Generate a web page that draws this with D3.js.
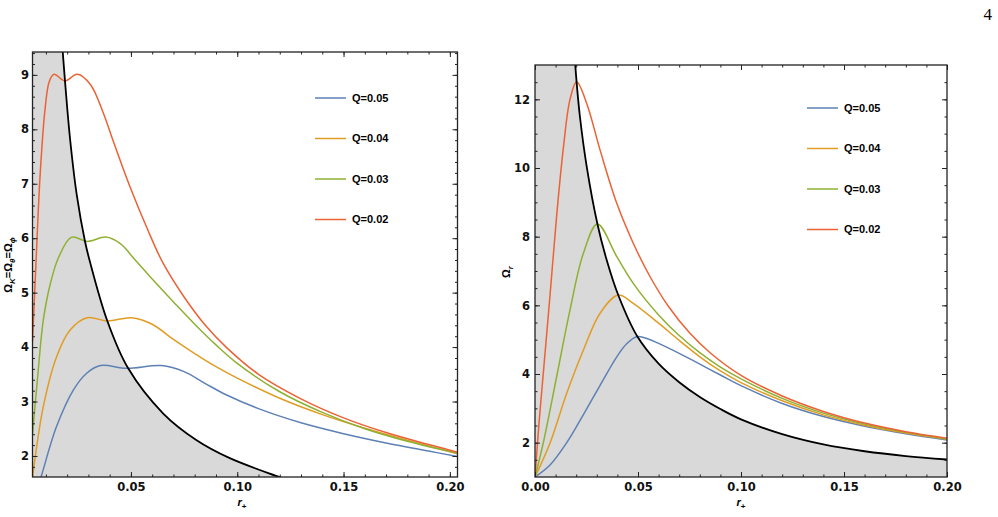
<!DOCTYPE html>
<html>
<head>
<meta charset="utf-8">
<script src="https://cdn.jsdelivr.net/npm/d3@7"></script>
<style>
  body { margin: 0; background: #fff; }
  .tick text { font-family: "DejaVu Sans", sans-serif; font-weight: bold; font-size: 11.5px; fill: #111; }
  .legend text { font-family: "Liberation Sans", Arial, sans-serif; font-weight: bold; font-size: 11px; }
  .alabel { font-family: "Liberation Sans", Arial, sans-serif; font-weight: bold; font-size: 11px; }
</style>
</head>
<body>
<script>
const width = 998;
const height = 517;

const series = ["Q=0.05", "Q=0.04", "Q=0.03", "Q=0.02"];
const colors = ["#5e81b5", "#e19c24", "#8fb032", "#eb6235"];

// left panel: Omega_K = Omega_theta = Omega_phi vs r+
const leftBlue = [[0.0055, 1.33], [0.008, 1.65], [0.015, 2.54], [0.0229, 3.21], [0.0292, 3.52], [0.0357, 3.66], [0.048, 3.61], [0.0644, 3.66], [0.075, 3.55], [0.085, 3.33], [0.095, 3.12], [0.11, 2.87], [0.13, 2.61], [0.15, 2.41], [0.17, 2.24], [0.19, 2.09], [0.2036, 1.99]];
const leftOrange = [[0.0037, 1.6], [0.0088, 2.91], [0.015, 3.82], [0.0213, 4.31], [0.0294, 4.54], [0.0389, 4.48], [0.0503, 4.54], [0.06, 4.42], [0.07, 4.14], [0.08, 3.88], [0.09, 3.64], [0.10, 3.43], [0.12, 3.06], [0.14, 2.76], [0.16, 2.51], [0.18, 2.29], [0.2036, 2.04]];
const leftGreen = [[0.0037, 2.4], [0.006, 3.4], [0.0088, 4.5], [0.012, 5.15], [0.016, 5.65], [0.0221, 6.02], [0.0294, 5.94], [0.0382, 6.02], [0.045, 5.90], [0.052, 5.60], [0.06, 5.25], [0.07, 4.83], [0.08, 4.42], [0.09, 4.04], [0.10, 3.70], [0.12, 3.18], [0.14, 2.80], [0.16, 2.50], [0.18, 2.27], [0.2036, 2.05]];
const leftRed = [[0.0037, 4.1], [0.0053, 5.51], [0.0072, 7.1], [0.0095, 8.33], [0.0116, 8.88], [0.0138, 9.01], [0.019, 8.89], [0.0248, 9.01], [0.031, 8.82], [0.037, 8.30], [0.0417, 7.78], [0.0495, 6.95], [0.0574, 6.20], [0.065, 5.55], [0.075, 4.92], [0.085, 4.40], [0.095, 3.99], [0.11, 3.50], [0.13, 3.05], [0.15, 2.70], [0.17, 2.43], [0.19, 2.21], [0.2036, 2.07]];
const leftBlack = [[0.0165, 10.3], [0.0177, 9.55], [0.019, 8.88], [0.0213, 7.85], [0.0245, 6.80], [0.0284, 5.94], [0.0307, 5.57], [0.0389, 4.48], [0.0487, 3.61], [0.0652, 2.78], [0.0809, 2.29], [0.0965, 1.96], [0.1193, 1.62], [0.125, 1.54]];
const leftXTicks = [0.05, 0.10, 0.15, 0.20];
const leftYTicks = [2, 3, 4, 5, 6, 7, 8, 9];

// right panel: Omega_r vs r+
const rightBlue = [[0, 1.0], [0.0073, 1.35], [0.0154, 2.00], [0.0235, 2.82], [0.0316, 3.67], [0.0397, 4.50], [0.0445, 4.88], [0.0497, 5.09], [0.055, 5.02], [0.06, 4.89], [0.07, 4.60], [0.08, 4.29], [0.09, 3.97], [0.10, 3.66], [0.12, 3.14], [0.14, 2.76], [0.16, 2.48], [0.18, 2.26], [0.20, 2.08]];
const rightOrange = [[0, 1.0], [0.0073, 1.99], [0.0154, 3.44], [0.0235, 4.70], [0.0316, 5.77], [0.0404, 6.30], [0.0477, 6.06], [0.06, 5.48], [0.07, 4.98], [0.08, 4.50], [0.09, 4.09], [0.10, 3.75], [0.12, 3.22], [0.14, 2.81], [0.16, 2.51], [0.18, 2.28], [0.20, 2.10]];
const rightGreen = [[0, 1.0], [0.004, 1.99], [0.0105, 3.92], [0.017, 5.87], [0.0235, 7.52], [0.0303, 8.37], [0.0397, 7.42], [0.0477, 6.64], [0.06, 5.72], [0.07, 5.12], [0.08, 4.62], [0.09, 4.20], [0.10, 3.86], [0.12, 3.29], [0.14, 2.86], [0.16, 2.54], [0.18, 2.30], [0.20, 2.11]];
const rightRed = [[0, 1.0], [0.002, 2.6], [0.004, 4.0], [0.0073, 6.3], [0.0105, 8.6], [0.0138, 10.6], [0.017, 12.0], [0.0202, 12.51], [0.0251, 11.88], [0.0316, 10.52], [0.0397, 8.97], [0.0477, 7.81], [0.0558, 6.84], [0.065, 5.95], [0.075, 5.20], [0.085, 4.62], [0.10, 3.96], [0.12, 3.36], [0.14, 2.91], [0.16, 2.57], [0.18, 2.32], [0.20, 2.13]];
const rightBlack = [[0.0182, 14.5], [0.0195, 13.05], [0.0202, 12.5], [0.0218, 11.5], [0.0251, 10.04], [0.0303, 8.37], [0.0348, 7.32], [0.0404, 6.30], [0.0497, 5.09], [0.06, 4.30], [0.07, 3.76], [0.08, 3.33], [0.09, 2.98], [0.10, 2.68], [0.12, 2.25], [0.14, 1.95], [0.16, 1.75], [0.18, 1.61], [0.20, 1.51]];
const rightXTicks = [0, 0.05, 0.10, 0.15, 0.20];
const rightYTicks = [2, 4, 6, 8, 10, 12];

const svg = d3
  .select("body")
  .append("svg")
  .attr("width", width)
  .attr("height", height);

// page number
svg
  .append("text")
  .attr("x", 992)
  .attr("y", 20)
  .attr("text-anchor", "end")
  .style("font-family", "'Liberation Serif', serif")
  .style("font-size", "17px")
  .text("4");

drawPanel({
  id: "left",
  box: [32.5, 52, 457.5, 477],
  xDomain: [0.0037, 0.2036],
  yDomain: [1.614, 9.42],
  xTicks: leftXTicks,
  yTicks: leftYTicks,
  xMinor: d3.range(0.01, 0.2001, 0.01),
  yMinor: d3.range(1.8, 9.41, 0.2),
  yPad: 3.5,
  lines: [leftBlue, leftOrange, leftGreen, leftRed],
  black: leftBlack,
  legend: [315, 98, 40.5],
  xlabelPos: [242, 506],
  ylabelPos: [12, 265],
  ylabel: [["Ω", ""], ["K", "sub"], ["=Ω", ""], ["θ", "sub"], ["=Ω", ""], ["ϕ", "sub"]]
});

drawPanel({
  id: "right",
  box: [535, 65, 947, 477],
  xDomain: [0, 0.2],
  yDomain: [1.0, 13.0],
  xTicks: rightXTicks,
  yTicks: rightYTicks,
  xMinor: d3.range(0.01, 0.2001, 0.01),
  yMinor: d3.range(1.5, 12.91, 0.5),
  yPad: 5,
  lines: [rightBlue, rightOrange, rightGreen, rightRed],
  black: rightBlack,
  legend: [807, 108, 40.5],
  xlabelPos: [741, 506],
  ylabelPos: [510, 272],
  ylabel: [["Ω", ""], ["r", "sub"]]
});

function drawPanel(p) {
  const [x0, y0, x1, y1] = p.box;
  const x = d3.scaleLinear().domain(p.xDomain).range([x0, x1]);
  const y = d3.scaleLinear().domain(p.yDomain).range([y1, y0]);
  const smooth = d3.curveCatmullRom.alpha(0.5);

  svg
    .append("clipPath")
    .attr("id", "clip-" + p.id)
    .append("rect")
    .attr("x", x0)
    .attr("y", y0)
    .attr("width", x1 - x0)
    .attr("height", y1 - y0);

  const g = svg.append("g").attr("clip-path", "url(#clip-" + p.id + ")");

  // shaded region left of / below the black curve
  g.append("rect")
    .attr("x", x0)
    .attr("y", y0)
    .attr("width", x(p.black[0][0]) - x0 + 0.5)
    .attr("height", y1 - y0)
    .attr("fill", "#d9d9d9");

  const area = d3
    .area()
    .x((d) => x(d[0]))
    .y0(y1)
    .y1((d) => y(d[1]))
    .curve(smooth);

  g.append("path").datum(p.black).attr("d", area).attr("fill", "#d9d9d9");

  const line = d3
    .line()
    .x((d) => x(d[0]))
    .y((d) => y(d[1]))
    .curve(smooth);

  g.selectAll(".curve")
    .data(p.lines)
    .enter()
    .append("path")
    .attr("class", "curve")
    .attr("d", line)
    .attr("fill", "none")
    .attr("stroke", (d, i) => colors[i])
    .attr("stroke-width", 1.5);

  g.append("path")
    .datum(p.black)
    .attr("d", line)
    .attr("fill", "none")
    .attr("stroke", "#000")
    .attr("stroke-width", 1.8);

  // axes, ticks pointing inward on all four sides
  const fmt = d3.format(".2f");
  const axes = [
    [d3.axisBottom(x).tickValues(p.xTicks).tickFormat(fmt).tickPadding(5.5), "translate(0," + y1 + ")", 5],
    [d3.axisBottom(x).tickValues(p.xMinor).tickFormat(""), "translate(0," + y1 + ")", 2.5],
    [d3.axisTop(x).tickValues(p.xTicks).tickFormat(""), "translate(0," + y0 + ")", 5],
    [d3.axisTop(x).tickValues(p.xMinor).tickFormat(""), "translate(0," + y0 + ")", 2.5],
    [d3.axisLeft(y).tickValues(p.yTicks).tickFormat(d3.format("d")).tickPadding(p.yPad), "translate(" + x0 + ",0)", 5],
    [d3.axisLeft(y).tickValues(p.yMinor).tickFormat(""), "translate(" + x0 + ",0)", 2.5],
    [d3.axisRight(y).tickValues(p.yTicks).tickFormat(""), "translate(" + x1 + ",0)", 5],
    [d3.axisRight(y).tickValues(p.yMinor).tickFormat(""), "translate(" + x1 + ",0)", 2.5]
  ];
  axes.forEach(function (a) {
    const ag = svg
      .append("g")
      .attr("transform", a[1])
      .call(a[0].tickSize(-a[2]));
    ag.select(".domain").remove();
    ag.selectAll(".tick line").attr("stroke", "#222").attr("stroke-width", 1);
  });

  svg
    .append("rect")
    .attr("x", x0)
    .attr("y", y0)
    .attr("width", x1 - x0)
    .attr("height", y1 - y0)
    .attr("fill", "none")
    .attr("stroke", "#222")
    .attr("stroke-width", 1.3);

  // legend
  const [lx, ly, lstep] = p.legend;
  const leg = svg
    .append("g")
    .attr("class", "legend")
    .selectAll("g")
    .data(series)
    .enter()
    .append("g")
    .attr("transform", (d, i) => "translate(" + lx + "," + (ly + i * lstep) + ")");
  leg
    .append("line")
    .attr("x1", 0)
    .attr("x2", 31)
    .attr("stroke", (d, i) => colors[i])
    .attr("stroke-width", 1.5);
  leg
    .append("text")
    .attr("x", 37)
    .attr("dy", "0.35em")
    .text((d) => d);

  // axis labels
  const xl = svg
    .append("text")
    .attr("class", "alabel")
    .attr("x", p.xlabelPos[0])
    .attr("y", p.xlabelPos[1])
    .attr("text-anchor", "middle");
  xl.append("tspan").style("font-style", "italic").text("r");
  xl.append("tspan").attr("dy", 3).style("font-size", "8px").text("+");

  const yl = svg
    .append("text")
    .attr("class", "alabel")
    .attr("text-anchor", "middle")
    .attr("transform", "translate(" + p.ylabelPos[0] + "," + p.ylabelPos[1] + ") rotate(-90)");
  p.ylabel.forEach(function (part, i) {
    const t = yl.append("tspan").text(part[0]);
    if (part[1] === "sub") {
      t.attr("dy", 3).style("font-size", "8px").style("font-style", "italic");
    } else if (i > 0) {
      t.attr("dy", -3);
    }
  });
}
</script>
</body>
</html>
